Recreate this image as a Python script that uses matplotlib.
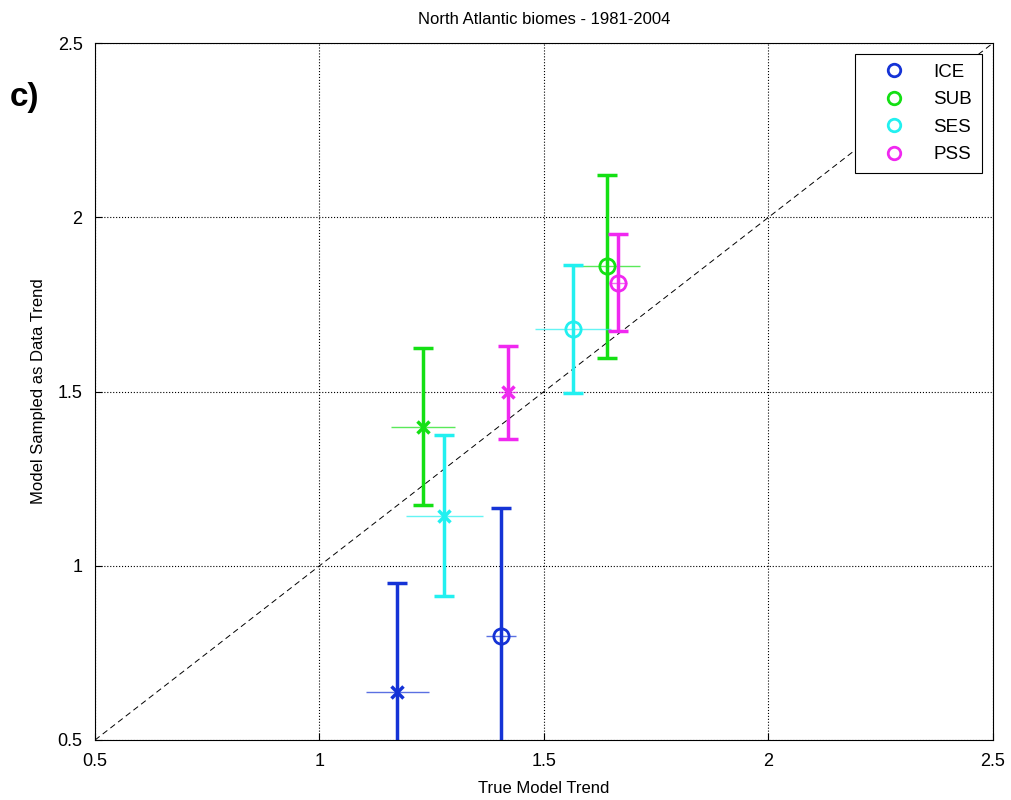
import matplotlib.pyplot as plt
from matplotlib.lines import Line2D

plt.rcParams['font.family'] = ['Liberation Sans', 'DejaVu Sans']

# biomes and colours
biomes = ["ICE", "SUB", "SES", "PSS"]
colors = ["#1533d6", "#14e014", "#22f0f0", "#f028f0"]

# 'x' points (first set) per biome
x_true = [1.173, 1.230, 1.278, 1.419]
x_samp = [0.639, 1.399, 1.144, 1.498]
x_yerr = [0.313, 0.225, 0.230, 0.133]
x_xerr = [0.070, 0.071, 0.086, 0.020]

# 'o' points (second set) per biome
o_true = [1.405, 1.641, 1.565, 1.666]
o_samp = [0.799, 1.860, 1.679, 1.812]
o_yerr = [0.368, 0.263, 0.184, 0.139]
o_xerr = [0.033, 0.074, 0.085, 0.020]

fig = plt.figure(figsize=(10.11, 8), dpi=100)
ax = fig.add_axes([0.094, 0.075, 0.888, 0.871])

# 1:1 line
ax.plot([0.5, 2.5], [0.5, 2.5], '--', color='black', lw=0.7, dashes=(6, 4))

for i in range(len(biomes)):
    c = colors[i]
    # horizontal error bars (thin)
    ax.errorbar(x_true[i], x_samp[i], xerr=x_xerr[i], fmt='none',
                ecolor=c, elinewidth=1.0, alpha=0.7, capsize=0)
    ax.errorbar(o_true[i], o_samp[i], xerr=o_xerr[i], fmt='none',
                ecolor=c, elinewidth=1.0, alpha=0.7, capsize=0)
    # vertical error bars (thick)
    ax.errorbar(x_true[i], x_samp[i], yerr=x_yerr[i], fmt='none',
                ecolor=c, elinewidth=2.5, capsize=7, capthick=2.5)
    ax.errorbar(o_true[i], o_samp[i], yerr=o_yerr[i], fmt='none',
                ecolor=c, elinewidth=2.5, capsize=7, capthick=2.5)
    # markers
    ax.plot(x_true[i], x_samp[i], 'x', color=c, ms=9, mew=2.5)
    ax.plot(o_true[i], o_samp[i], 'o', color=c, ms=11, mew=2,
            markerfacecolor='none')

ax.set_xlim(0.5, 2.5)
ax.set_ylim(0.5, 2.5)
ax.set_xticks([0.5, 1, 1.5, 2, 2.5])
ax.set_yticks([0.5, 1, 1.5, 2, 2.5])
ax.set_xticklabels(["0.5", "1", "1.5", "2", "2.5"])
ax.set_yticklabels(["0.5", "1", "1.5", "2", "2.5"])
ax.tick_params(labelsize=13, direction='in', length=5)
ax.tick_params(axis='x', pad=9)
ax.tick_params(axis='y', pad=9)
ax.grid(True, linestyle=':', color='black', lw=0.8)

ax.set_title("North Atlantic biomes - 1981-2004", fontsize=12, pad=14)
ax.set_xlabel("True Model Trend", fontsize=12, labelpad=8)
ax.set_ylabel("Model Sampled as Data Trend", fontsize=12, labelpad=8)

handles = [Line2D([], [], marker='o', linestyle='none', color=c,
                  markerfacecolor='none', ms=9, mew=2) for c in colors]
leg = ax.legend(handles, biomes, loc='upper right', fontsize=13.5,
                fancybox=False, framealpha=1, edgecolor='black',
                borderaxespad=0.6, borderpad=0.5, handlelength=3.2,
                handletextpad=0.5, labelspacing=0.55)
leg.get_frame().set_linewidth(0.8)

fig.text(0.010, 0.868, "c)", fontsize=24, fontweight='bold')

fig.savefig("out.png", dpi=100)
